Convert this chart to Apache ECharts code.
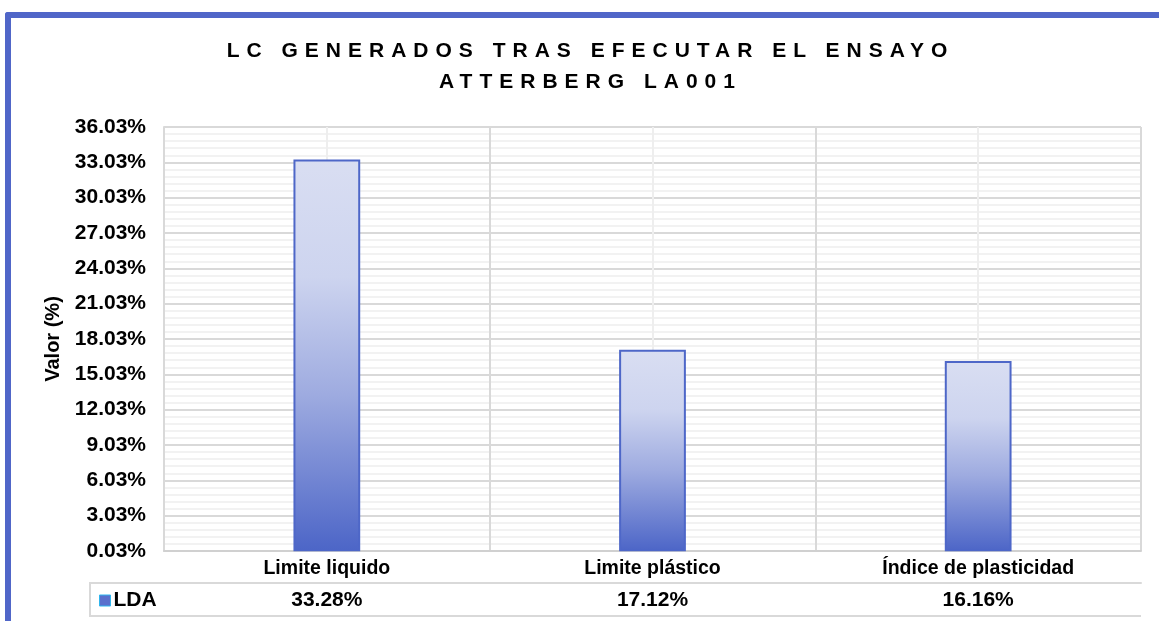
<!DOCTYPE html>
<html>
<head>
<meta charset="utf-8">
<title>LC generados tras efectuar el ensayo Atterberg</title>
<script src="https://cdn.jsdelivr.net/npm/echarts@6/dist/echarts.min.js"></script>
<style>
  html, body { margin: 0; padding: 0; background: #fff; }
  #wrap { position: relative; width: 1159px; height: 621px; overflow: hidden; }
  #frame {
    position: absolute; left: 5px; top: 12px; right: -20px; bottom: -20px;
    border-top: 6px solid #5066c8; border-left: 6px solid #5066c8;
    border-top-left-radius: 3px;
  }
  #chart { position: absolute; left: 0; top: 0; width: 1159px; height: 621px; }
  #title {
    position: absolute; left: 11px; top: 34px; width: 1159px;
    text-align: center; font: bold 21px "Liberation Sans", Arial, sans-serif;
    letter-spacing: 7px; line-height: 31px; color: #000; z-index: 2;
  }
</style>
</head>
<body>
<div id="wrap">
  <div id="frame"></div>
  <div id="chart"></div>
  <div id="title">LC GENERADOS TRAS EFECUTAR EL ENSAYO<br>ATTERBERG LA001</div>
</div>
<script>
const categories = ["Limite liquido", "Limite plástico", "Índice de plasticidad"];
const ldaValues = [33.28, 17.12, 16.16];
const yMin = 0.03;
const yMax = 36.03;
const yStep = 3;

const font = "Liberation Sans";
const gridLine = "#d9d9d9";
const minorLine = "#eeeeee";

const myChart = echarts.init(document.getElementById("chart"));
myChart.setOption({
  animation: false,
  textStyle: { fontFamily: font },
  grid: { left: 164, right: 18, top: 127, bottom: 70, containLabel: false },
  legend: {
    left: 94,
    top: 585,
    itemWidth: 11,
    itemHeight: 11,
    icon: "rect",
    data: [{
      name: "LDA",
      itemStyle: { color: "#5a6fcc", borderColor: "#2fb5ee", borderWidth: 1 }
    }],
    textStyle: { fontFamily: font, fontWeight: "bold", fontSize: 21, color: "#000", padding: [0, 0, 0, -2] }
  },
  xAxis: [
    {
      type: "category",
      data: categories,
      position: "bottom",
      axisLine: { lineStyle: { color: "#d0d0d0", width: 2 } },
      axisTick: { length: 65, lineStyle: { color: gridLine, width: 2 } },
      axisLabel: { margin: 8, fontFamily: font, fontWeight: "bold", fontSize: 19.5, color: "#000" },
      splitLine: { show: true, lineStyle: { color: gridLine, width: 2 } }
    },
    {
      // fila de valores de la tabla de datos
      type: "category",
      data: ldaValues.map(v => v.toFixed(2) + "%"),
      position: "bottom",
      offset: 32,
      axisLine: { lineStyle: { color: gridLine, width: 2 } },
      axisTick: { show: false },
      axisLabel: { margin: 7, fontFamily: font, fontWeight: "bold", fontSize: 21, color: "#000" },
      splitLine: { show: false }
    },
    {
      // lineas verticales claras al centro de cada categoria
      type: "value",
      min: 0,
      max: categories.length,
      interval: 1,
      position: "top",
      axisLine: { show: false },
      axisTick: { show: false },
      axisLabel: { show: false },
      splitLine: { show: false },
      minorTick: { show: false, splitNumber: 2 },
      minorSplitLine: { show: true, lineStyle: { color: minorLine, width: 2 } }
    }
  ],
  yAxis: {
    type: "value",
    min: yMin,
    max: yMax,
    interval: yStep,
    name: "Valor (%)",
    nameLocation: "middle",
    nameRotate: 90,
    nameGap: 101,
    nameTextStyle: { fontFamily: font, fontWeight: "bold", fontSize: 20, color: "#000" },
    axisLine: { show: true, lineStyle: { color: gridLine, width: 2 } },
    axisTick: { show: false },
    axisLabel: {
      margin: 18,
      fontFamily: font,
      fontWeight: "bold",
      fontSize: 21,
      color: "#000",
      formatter: v => v.toFixed(2) + "%"
    },
    splitLine: { lineStyle: { color: gridLine, width: 2 } },
    minorTick: { show: false, splitNumber: 5 },
    minorSplitLine: { show: true, lineStyle: { color: minorLine, width: 1.5 } }
  },
  graphic: [
    {
      // celda de la leyenda y borde inferior de la tabla
      type: "polyline",
      silent: true,
      shape: { points: [[164, 583], [90, 583], [90, 616], [1141, 616]] },
      style: { stroke: gridLine, lineWidth: 2, fill: null }
    }
  ],
  series: [
    {
      name: "LDA",
      type: "bar",
      xAxisIndex: 0,
      barWidth: "20.5%",
      data: ldaValues,
      itemStyle: {
        color: {
          type: "linear",
          x: 0, y: 0, x2: 0, y2: 1,
          colorStops: [
            { offset: 0, color: "#d9def2" },
            { offset: 0.3, color: "#cdd4ef" },
            { offset: 0.6, color: "#9eabe0" },
            { offset: 1, color: "#4c65c7" }
          ]
        },
        borderColor: "#4e67c8",
        borderWidth: 2
      }
    }
  ]
});
</script>
</body>
</html>
